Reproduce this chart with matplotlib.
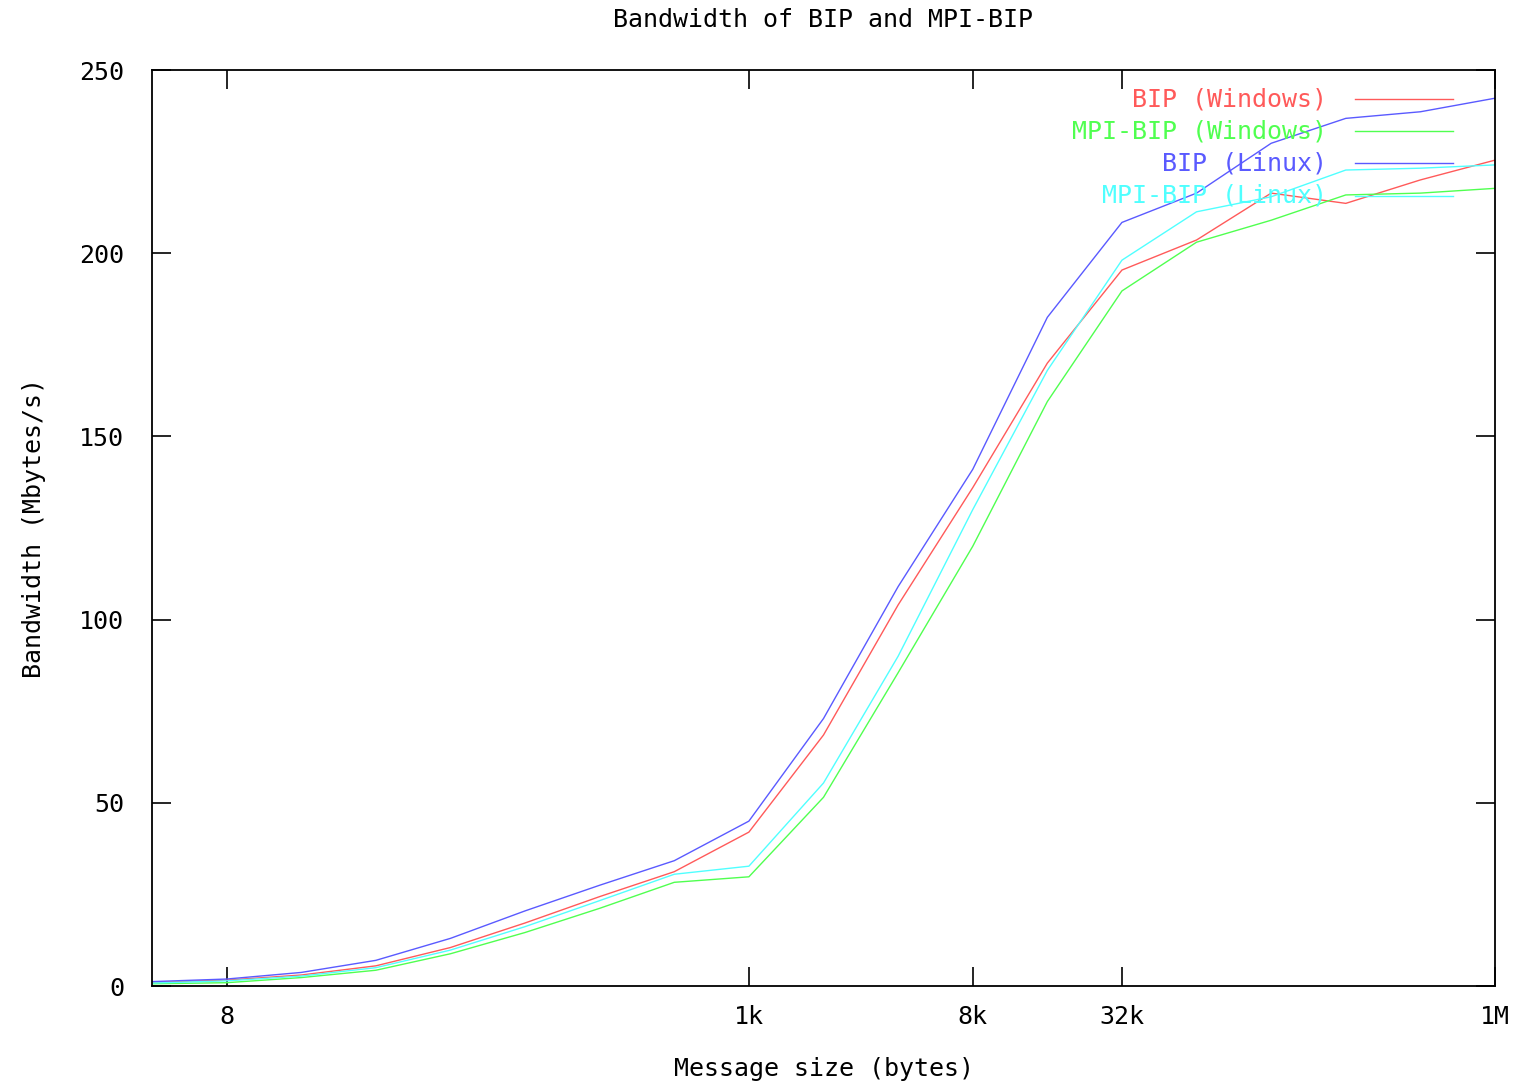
import matplotlib
matplotlib.use("Agg")
import matplotlib.pyplot as plt
import numpy as np

# Message sizes: powers of two from 4 bytes to 1 MB
sizes = [2 ** k for k in range(2, 21)]

bip_windows = [1.0, 1.6, 3.0, 5.5, 10.5, 17.2, 24.4, 31.2, 42.0, 68.5, 104.0,
               136.0, 170.0, 195.4, 203.6, 216.4, 213.6, 220.0, 225.4]
mpi_bip_windows = [0.6, 0.9, 2.3, 4.3, 8.8, 14.6, 21.2, 28.3, 29.8, 51.5, 85.5,
                   120.0, 159.5, 189.7, 203.0, 209.0, 215.9, 216.4, 217.7]
bip_linux = [1.2, 1.9, 3.7, 7.0, 13.0, 20.5, 27.5, 34.2, 45.0, 73.0, 109.0,
             141.0, 182.5, 208.4, 216.4, 230.0, 236.8, 238.6, 242.3]
mpi_bip_linux = [0.8, 1.4, 2.7, 5.0, 9.8, 16.2, 23.3, 30.5, 32.7, 55.4, 90.0,
                 130.0, 168.0, 198.1, 211.3, 215.4, 222.7, 223.2, 224.1]

series_labels = ["BIP (Windows)", "MPI-BIP (Windows)", "BIP (Linux)", "MPI-BIP (Linux)"]
series_colors = ["#ff5a5a", "#50ff50", "#5a5aff", "#50ffff"]

xtick_values = [8, 1024, 8192, 32768, 1048576]
xtick_labels = ["8", "1k", "8k", "32k", "1M"]
ytick_values = [0, 50, 100, 150, 200, 250]

FONT = "DejaVu Sans Mono"
FS = 18

fig = plt.figure(figsize=(15.22, 10.84), dpi=100)
ax = fig.add_axes([152 / 1522, 1 - 986 / 1084, (1495 - 152) / 1522, (986 - 70) / 1084])

data = [bip_windows, mpi_bip_windows, bip_linux, mpi_bip_linux]
for vals, col in zip(data, series_colors):
    ax.plot(sizes, vals, color=col, lw=1.0)

ax.set_xscale("log", base=2)
ax.set_xlim(4, 2 ** 20)
ax.set_ylim(0, 250)
ax.set_xticks(xtick_values)
ax.set_xticklabels(xtick_labels, fontfamily=FONT, fontsize=FS)
ax.xaxis.set_minor_locator(matplotlib.ticker.NullLocator())
ax.set_yticks(ytick_values)
ax.set_yticklabels([str(v) for v in ytick_values], fontfamily=FONT, fontsize=FS)
ax.tick_params(direction="in", length=14, width=1.2, top=True, right=True,
               colors="black", pad=14)
ax.tick_params(axis="y", pad=20)
for s in ax.spines.values():
    s.set_linewidth(1.3)

ax.set_xlabel("Message size (bytes)", fontfamily=FONT, fontsize=FS, labelpad=20)
ax.set_ylabel("Bandwidth (Mbytes/s)", fontfamily=FONT, fontsize=FS, labelpad=24)
fig.text(0.541, 1 - 20 / 1084, "Bandwidth of BIP and MPI-BIP", ha="center", va="center",
         fontfamily=FONT, fontsize=FS)

# gnuplot-style key: right-aligned text followed by a line sample
key_y = [(986 - 99) / 916, (986 - 131) / 916, (986 - 163) / 916, (986 - 196) / 916]
for lab, col, yy in zip(series_labels, series_colors, key_y):
    ax.text(0.875, yy, lab, transform=ax.transAxes, ha="right", va="center",
            color=col, fontfamily=FONT, fontsize=FS)
    ax.plot([0.896, 0.969], [yy, yy], transform=ax.transAxes, color=col, lw=1.0)

fig.savefig("out.png", dpi=100, facecolor="white")
